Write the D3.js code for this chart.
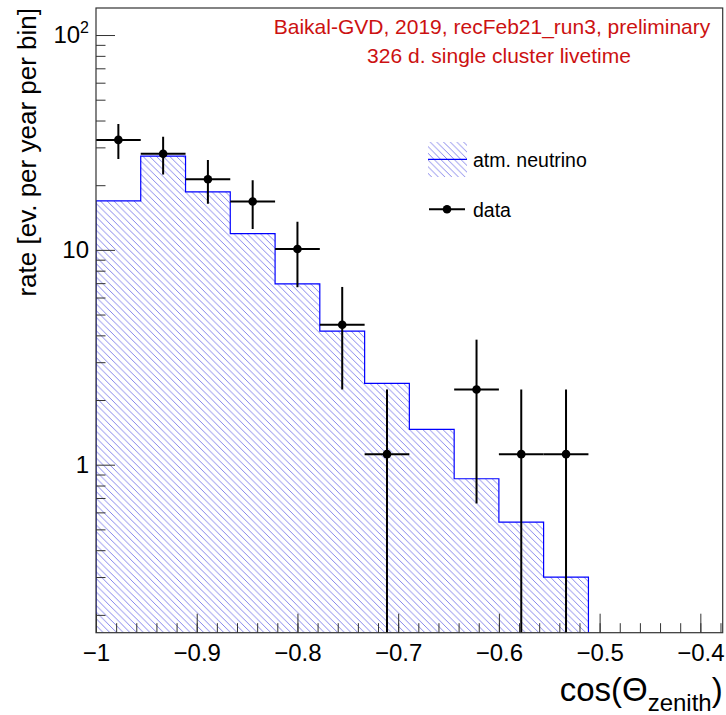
<!DOCTYPE html>
<html>
<head>
<meta charset="utf-8">
<script src="https://cdn.jsdelivr.net/npm/d3@7"></script>
<style>
  body { margin: 0; background: #fff; }
  svg { display: block; font-family: "Liberation Sans", Arial, sans-serif; }
</style>
</head>
<body>
<svg id="chart" width="726" height="715"></svg>
<script>
// bin edges of the filled bins (cos zenith), width 0.4/9
var binEdges = [-1, -0.9556, -0.9111, -0.8667, -0.8222, -0.7778, -0.7333, -0.6889, -0.6444, -0.6, -0.5556, -0.5111];
// atm. neutrino expectation per bin
var mcRate = [16.9, 27.3, 18.6, 11.9, 6.95, 4.19, 2.39, 1.46, 0.86, 0.54, 0.30];
// data points per bin (null = empty bin)
var dataRate = [32.5, 28.0, 21.3, 16.8, 10.1, 4.48, 1.12, null, 2.24, 1.12, 1.12];
var dataErr = [6.0, 5.6, 4.9, 4.3, 3.4, 2.24, 1.12, null, 1.58, 1.12, 1.12];

var xTicksMajor = [-1, -0.9, -0.8, -0.7, -0.6, -0.5, -0.4];
var xTickLabels = ["\u22121", "\u22120.9", "\u22120.8", "\u22120.7", "\u22120.6", "\u22120.5", "\u22120.4"];
var yTicksMajor = [1, 10, 100];

const svg = d3.select("#chart");
const margin = {left: 96, top: 8, right: 3.3, bottom: 82.3};
const width = 726, height = 715;

const x = d3.scaleLinear()
    .domain([-1, -0.3778])
    .range([margin.left, width - margin.right]);
const y = d3.scaleLog()
    .domain([0.1652, 133.6])
    .range([height - margin.bottom, margin.top]);

const x0 = x.range()[0], x1 = x.range()[1];
const y0 = y.range()[0], y1 = y.range()[1];

const defs = svg.append("defs");
const pat = defs.append("pattern")
    .attr("id", "hatch")
    .attr("patternUnits", "userSpaceOnUse")
    .attr("width", 6.7).attr("height", 6.7);
pat.append("path")
    .attr("d", "M0,0L6.7,6.7M-1,5.7L1,7.7M5.7,-1L7.7,1")
    .attr("stroke", "#6868e6")
    .attr("stroke-width", 0.8);

defs.append("clipPath").attr("id", "frame-clip")
  .append("rect")
    .attr("x", x0).attr("y", y1)
    .attr("width", x1 - x0).attr("height", y0 - y1);

// histogram (step shape)
let d = "M" + x(binEdges[0]) + "," + y0;
mcRate.forEach((v, i) => {
    d += "L" + x(binEdges[i]) + "," + y(v) + "L" + x(binEdges[i + 1]) + "," + y(v);
});
d += "L" + x(binEdges[binEdges.length - 1]) + "," + y0;

const plot = svg.append("g").attr("clip-path", "url(#frame-clip)");
plot.append("path")
    .attr("d", d + "Z")
    .attr("fill", "url(#hatch)");
plot.append("path")
    .attr("d", d)
    .attr("fill", "none")
    .attr("stroke", "#0000ff")
    .attr("stroke-width", 1.2);

// data points with error bars
const pts = dataRate.map((v, i) => ({v: v, e: dataErr[i], lo: binEdges[i], hi: binEdges[i + 1]}))
    .filter(p => p.v != null);

const g = plot.append("g").attr("stroke", "#000").attr("stroke-width", 2);
g.selectAll("line.h").data(pts).enter().append("line")
    .attr("x1", p => x(p.lo)).attr("x2", p => x(p.hi))
    .attr("y1", p => y(p.v)).attr("y2", p => y(p.v));
g.selectAll("line.v").data(pts).enter().append("line")
    .attr("x1", p => x((p.lo + p.hi) / 2)).attr("x2", p => x((p.lo + p.hi) / 2))
    .attr("y1", p => p.v - p.e > 0 ? y(p.v - p.e) : y0 + 5)
    .attr("y2", p => y(p.v + p.e));
plot.selectAll("circle").data(pts).enter().append("circle")
    .attr("cx", p => x((p.lo + p.hi) / 2))
    .attr("cy", p => y(p.v))
    .attr("r", 4.3)
    .attr("fill", "#000");

// axes
const xMinor = d3.range(-1, -0.377, 0.02).map(v => +v.toFixed(2));
const axisCol = "#333";

const xg = svg.append("g").attr("transform", `translate(0,${y0})`);
xg.call(d3.axisBottom(x).tickValues(xMinor).tickSize(-9.5).tickFormat(""));
xg.append("g").call(d3.axisBottom(x).tickValues(xTicksMajor).tickSize(-19)
    .tickPadding(8)
    .tickFormat((v, i) => xTickLabels[i]));
xg.selectAll("path.domain").remove();
xg.selectAll("line").attr("stroke", axisCol);
xg.selectAll("text")
    .attr("fill", "#000")
    .attr("font-size", 24)
    .attr("font-family", "Liberation Sans, Arial, sans-serif")
    .attr("dy", "0.86em");

let yMinor = [];
[0.1, 1, 10].forEach(dec => {
    for (let k = 2; k <= 9; k++) yMinor.push(dec * k);
});
yMinor = yMinor.filter(v => v >= y.domain()[0] && v <= y.domain()[1]);

const yg = svg.append("g").attr("transform", `translate(${x0},0)`);
yg.call(d3.axisLeft(y).tickValues(yMinor).tickSize(-9.5).tickFormat(""));
yg.append("g").call(d3.axisLeft(y).tickValues(yTicksMajor).tickSize(-19)
    .tickPadding(7)
    .tickFormat(v => v === 100 ? "" : String(v)));
yg.selectAll("path.domain").remove();
yg.selectAll("line").attr("stroke", axisCol);
yg.selectAll("text")
    .attr("fill", "#000")
    .attr("font-size", 24)
    .attr("font-family", "Liberation Sans, Arial, sans-serif");

const sup = svg.append("text")
    .attr("x", x0 - 7).attr("y", y(100))
    .attr("dy", "0.32em")
    .attr("text-anchor", "end")
    .attr("font-size", 24);
sup.append("tspan").text("10");
sup.append("tspan").attr("font-size", 16).attr("dy", "-0.6em").text("2");

// frame
svg.append("rect")
    .attr("x", x0).attr("y", y1)
    .attr("width", x1 - x0).attr("height", y0 - y1)
    .attr("fill", "none")
    .attr("stroke", axisCol)
    .attr("stroke-width", 1.2);

// axis titles
svg.append("text")
    .attr("transform", `translate(36,${y1}) rotate(-90)`)
    .attr("text-anchor", "end")
    .attr("font-size", 26)
    .text("rate [ev. per year per bin]");

const xt = svg.append("text")
    .attr("x", x1).attr("y", 701)
    .attr("text-anchor", "end")
    .attr("font-size", 33);
xt.append("tspan").text("cos(\u0398");
xt.append("tspan").attr("font-size", 24).attr("dy", 10).text("zenith");
xt.append("tspan").attr("dy", -10).text(")");

// label
svg.append("text")
    .attr("x", 492).attr("y", 34)
    .attr("text-anchor", "middle")
    .attr("font-size", 21).attr("fill", "#cc1111")
    .text("Baikal-GVD, 2019, recFeb21_run3, preliminary");
svg.append("text")
    .attr("x", 499).attr("y", 63)
    .attr("text-anchor", "middle")
    .attr("font-size", 21).attr("fill", "#cc1111")
    .text("326 d. single cluster livetime");

// legend
const leg = svg.append("g");
leg.append("rect")
    .attr("x", 428).attr("y", 142).attr("width", 39).attr("height", 35)
    .attr("fill", "url(#hatch)");
leg.append("line")
    .attr("x1", 428).attr("x2", 467).attr("y1", 159.3).attr("y2", 159.3)
    .attr("stroke", "#0000ff").attr("stroke-width", 1.2);
leg.append("text").attr("x", 473).attr("y", 166.5).attr("font-size", 19.5).text("atm. neutrino");
leg.append("line")
    .attr("x1", 429).attr("x2", 465).attr("y1", 209.3).attr("y2", 209.3)
    .attr("stroke", "#000").attr("stroke-width", 2);
leg.append("circle").attr("cx", 447).attr("cy", 209.3).attr("r", 4.3).attr("fill", "#000");
leg.append("text").attr("x", 473).attr("y", 216.5).attr("font-size", 19.5).text("data");
</script>
</body>
</html>
